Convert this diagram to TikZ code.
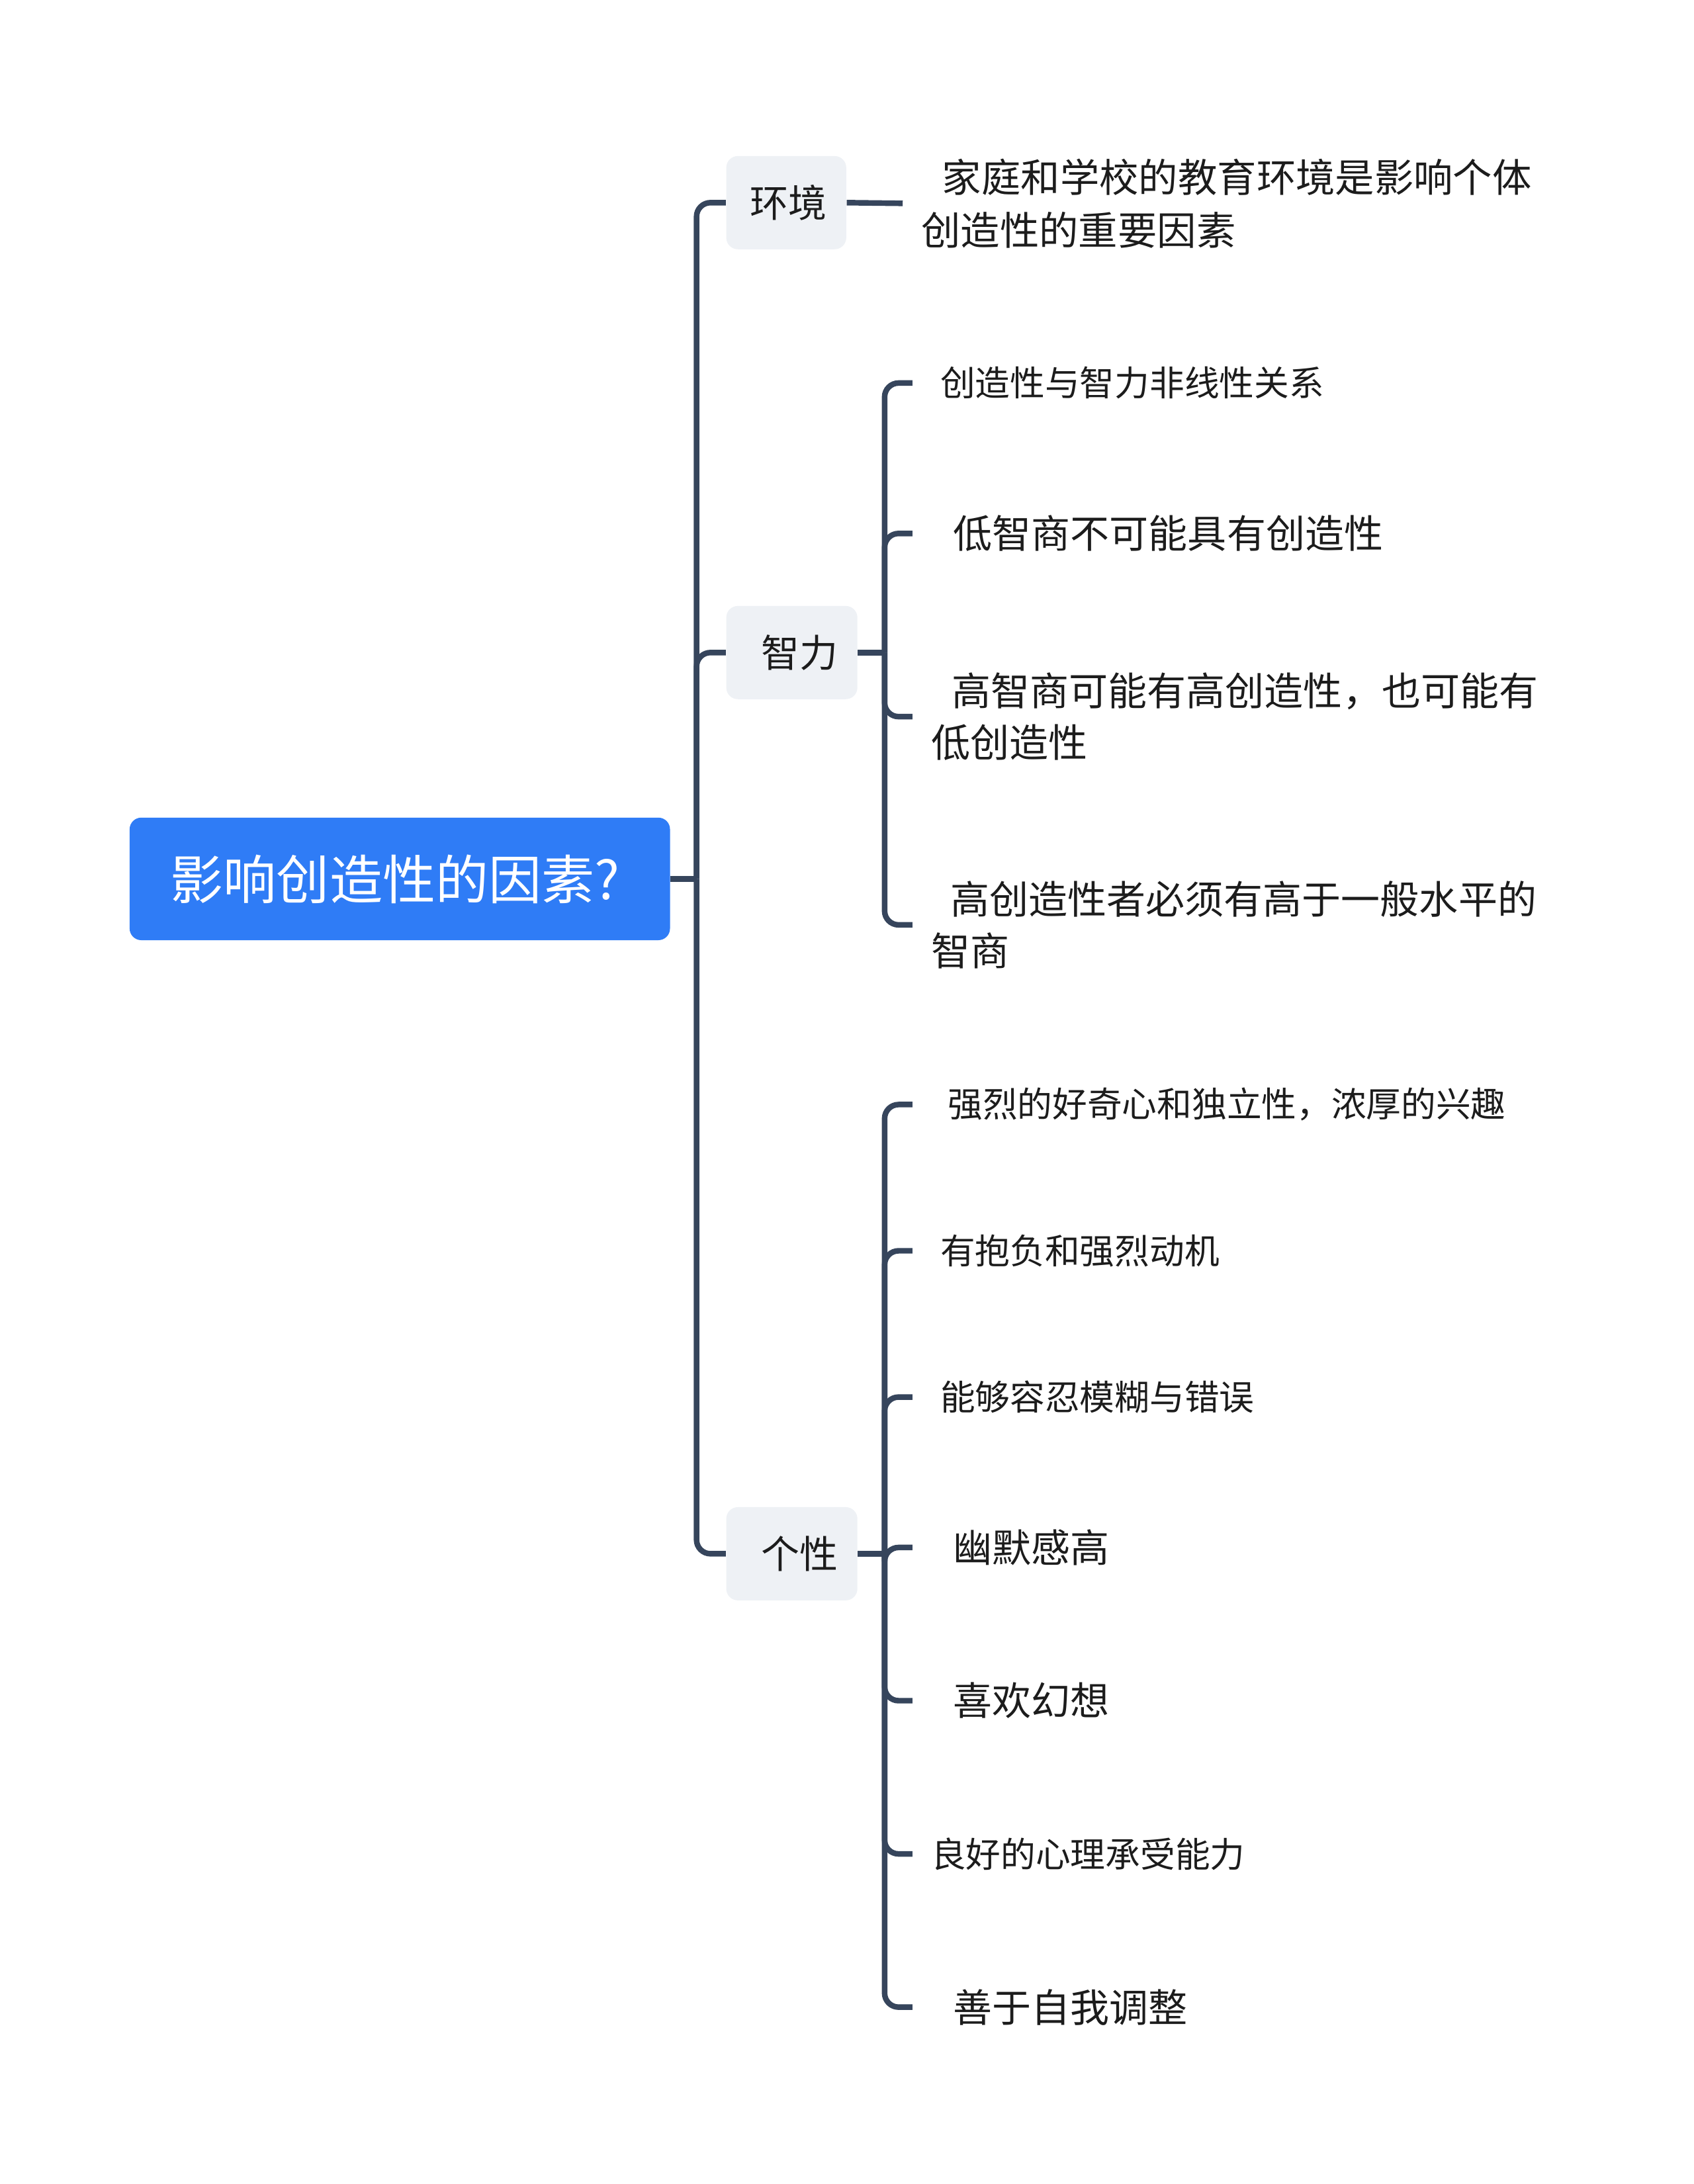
\documentclass[tikz,border=0pt]{standalone}
\usepackage{fontspec}
\setmainfont{Noto Sans CJK SC}
\usetikzlibrary{positioning}
\definecolor{rootblue}{HTML}{2F7CF6}
\definecolor{branchline}{HTML}{36455C}
\definecolor{topicgray}{HTML}{EEF1F5}
\definecolor{inktext}{HTML}{1C1C1C}
\tikzset{
    mind map/.style = {x=0.02105cm, y=-0.02105cm},
    line/.style     = {draw=branchline, line width=2.4pt, rounded corners=6pt},
    root/.style     = {fill=rootblue, text=white, rounded corners=5pt,
                       minimum width=232.4pt, minimum height=52.7pt,
                       font=\fontsize{22.8}{26}\selectfont},
    topic/.style    = {fill=topicgray, text=inktext, rounded corners=5pt,
                       minimum height=40.1pt, anchor=west, inner xsep=8.4pt,
                       font=\fontsize{16.5}{20}\selectfont},
    leaf/.style     = {text=inktext, anchor=west, align=left,
                       inner xsep=7.8pt, inner ysep=2pt,
                       font=\fontsize{15}{22.2}\selectfont},
    big leaf/.style = {leaf, font=\fontsize{16.8}{22.2}\selectfont}
}
\begin{document}
\begin{tikzpicture}[mind map]
\useasboundingbox (0,0) rectangle (1216,1568);

% Central topic and trunk
\node[root] (factors) at (287,631) {\hspace*{-4pt}影响创造性的因素?};
\coordinate (trunk) at (500,631);
\draw[line] (factors.east) -- (trunk);

% Main topics
\node[topic] (env) at (521,145.5) {\hspace*{1.8pt}环境};
\node[topic] (intel) at (521,468.5) {\hspace*{6.6pt}智力};
\node[topic] (pers) at (521,1115.5) {\hspace*{6.6pt}个性};
\foreach \t in {env,intel,pers}
    \draw[line] (trunk) |- (\t.west);

% Environment
\node[leaf, font=\fontsize{16.9}{22.8}\selectfont] (env1) at (648,146)
    {\hspace*{9pt}家庭和学校的教育环境是影响个体\\创造性的重要因素};
\draw[line] (env.east) -- (env1.west);

% Intelligence
\coordinate (intelbus) at (635,468.5);
\draw[line] (intel.east) -- (intelbus);
\node[leaf] (intel1) at (655,275) {\hspace*{4pt}创造性与智力非线性关系};
\node[big leaf] (intel2) at (655,383) {\hspace*{9.6pt}低智商不可能具有创造性};
\node[big leaf] (intel3) at (655,514.5)
    {\hspace*{9pt}高智商可能有高创造性，也可能有\\低创造性};
\node[big leaf] (intel4) at (655,664)
    {\hspace*{8.4pt}高创造性者必须有高于一般水平的\\智商};
\foreach \c in {intel1,intel2,intel3,intel4}
    \draw[line] (intelbus) |- (\c.west);

% Personality
\coordinate (persbus) at (635,1115.5);
\draw[line] (pers.east) -- (persbus);
\node[leaf] (pers1) at (655,793) {\hspace*{7.2pt}强烈的好奇心和独立性，浓厚的兴趣};
\node[leaf] (pers2) at (655,898) {\hspace*{4pt}有抱负和强烈动机};
\node[leaf] (pers3) at (655,1003) {\hspace*{4pt}能够容忍模糊与错误};
\node[big leaf] (pers4) at (655,1111) {\hspace*{9.6pt}幽默感高};
\node[big leaf] (pers5) at (655,1221) {\hspace*{9.6pt}喜欢幻想};
\node[leaf] (pers6) at (655,1331) {良好的心理承受能力};
\node[big leaf] (pers7) at (655,1441) {\hspace*{9.6pt}善于自我调整};
\foreach \c in {pers1,pers2,pers3,pers4,pers5,pers6,pers7}
    \draw[line] (persbus) |- (\c.west);

\end{tikzpicture}
\end{document}
